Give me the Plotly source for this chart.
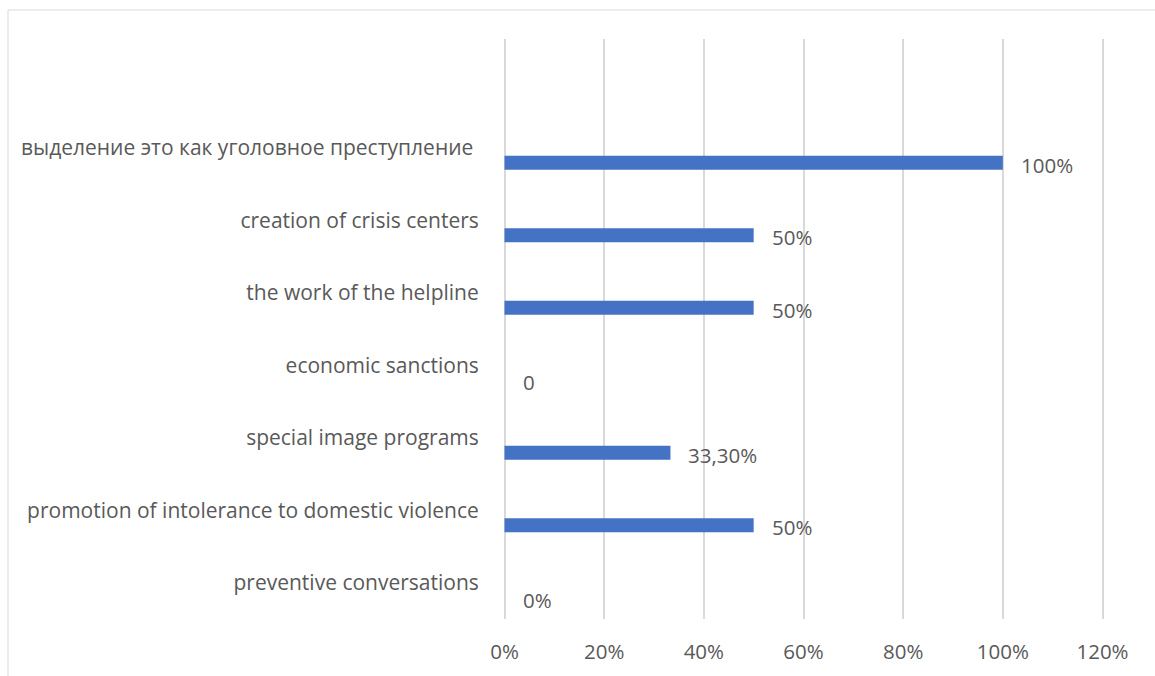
import plotly.graph_objects as go

categories = [
    "выделение это как уголовное преступление ",
    "creation of crisis centers",
    "the work of the helpline",
    "economic sanctions",
    "special image programs",
    "promotion of intolerance to domestic violence",
    "preventive conversations",
]
values = [1.0, 0.5, 0.5, 0.0, 0.333, 0.5, 0.0]
value_labels = ["100%", "50%", "50%", "0", "33,30%", "50%", "0%"]
x_ticks = [0, 0.2, 0.4, 0.6, 0.8, 1.0, 1.2]
x_tick_labels = ["0%", "20%", "40%", "60%", "80%", "100%", "120%"]

W, H = 1155, 676
ml, mr, mt, mb = 503, 51, 39, 57
FONT = "Open Sans"
FS_CAT = 21
FS_VAL = 20.5
FS_TICK = 20.5
TXT = "#595959"

fig = go.Figure()
fig.add_trace(go.Bar(
    x=values, y=categories, orientation="h",
    marker=dict(color="#4472C4", line=dict(width=0)),
    width=0.193, offset=0.11,
    hoverinfo="skip",
))

for v, c, t in zip(values, categories, value_labels):
    fig.add_annotation(x=v, y=c, text=t, showarrow=False, xanchor="left",
                       yanchor="middle", xshift=16, yshift=-17,
                       font=dict(family=FONT, size=FS_VAL, color=TXT))

pw = W - ml - mr
ph = H - mt - mb
def px_x(p):
    return (p - ml) / pw
def px_y(p):
    return 1 - (p - mt) / ph

fig.add_shape(type="line", xref="paper", yref="paper",
              x0=px_x(8), x1=px_x(W + 5), y0=px_y(10), y1=px_y(10),
              line=dict(color="#D9D9D9", width=1))
fig.add_shape(type="line", xref="paper", yref="paper",
              x0=px_x(8), x1=px_x(8), y0=px_y(10), y1=px_y(H + 5),
              line=dict(color="#D9D9D9", width=1))

fig.update_layout(
    width=W, height=H,
    margin=dict(l=ml, r=mr, t=mt, b=mb, pad=0, autoexpand=False),
    paper_bgcolor="white", plot_bgcolor="white",
    showlegend=False,
    font=dict(family=FONT, size=FS_CAT, color=TXT),
    xaxis=dict(range=[-0.003, 1.203], tickvals=x_ticks, ticktext=x_tick_labels,
               showgrid=True, gridcolor="#D9D9D9", gridwidth=2,
               zeroline=True, zerolinecolor="#D9D9D9", zerolinewidth=2,
               showline=False, automargin=False,
               ticks="outside", ticklen=14, tickcolor="rgba(0,0,0,0)",
               tickfont=dict(family=FONT, size=FS_TICK, color=TXT), fixedrange=True),
    yaxis=dict(range=[6.5, -1.5], type="category",
               showgrid=False, zeroline=False, showline=False, automargin=False,
               ticks="outside", ticklen=19, tickcolor="rgba(0,0,0,0)",
               tickfont=dict(family=FONT, size=FS_CAT, color=TXT), fixedrange=True),
)

fig.write_html("out.html")
